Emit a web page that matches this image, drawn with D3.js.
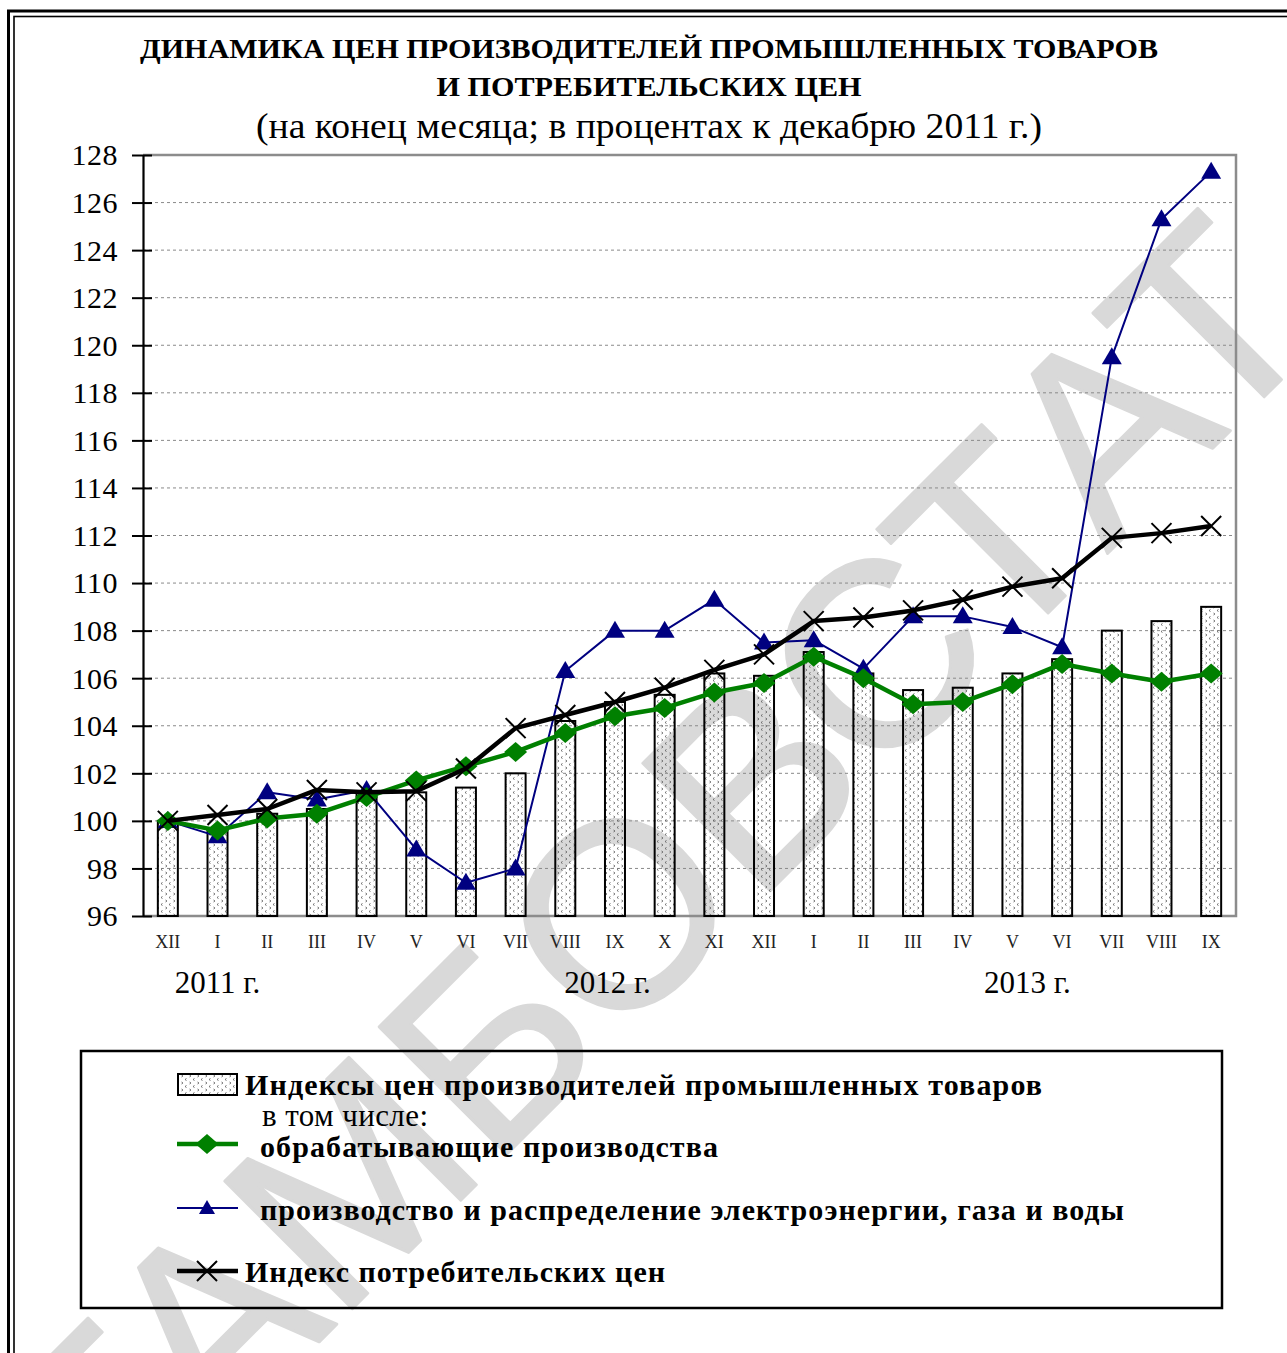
<!DOCTYPE html>
<html>
<head>
<meta charset="utf-8">
<script src="https://cdn.jsdelivr.net/npm/d3@7"></script>
<style>
  body { margin: 0; background: #fff; }
  svg { display: block; }
</style>
</head>
<body>
<div id="chart"></div>
<script>
// month labels: XII 2011 .. IX 2013
const months = ['XII','I','II','III','IV','V','VI','VII','VIII','IX','X','XI','XII',
                'I','II','III','IV','V','VI','VII','VIII','IX'];
const yearLabels = ['2011 г.', '2012 г.', '2013 г.'];
const yearAt = [1, 8.85, 17.3];   // position in month slots
const yTicks = d3.range(96, 129, 2);

// producer price index (bars)
const ppi = [100.0, 99.7, 100.3, 100.5, 101.2, 101.2, 101.4, 102.0, 104.2, 105.0, 105.3,
             106.2, 106.1, 107.1, 106.2, 105.5, 105.6, 106.2, 106.8, 108.0, 108.4, 109.0];
// manufacturing
const manuf = [100.0, 99.6, 100.1, 100.3, 101.0, 101.7, 102.3, 102.9, 103.7, 104.4, 104.75,
               105.4, 105.8, 106.9, 106.0, 104.9, 105.0, 105.75, 106.6, 106.2, 105.85, 106.2];
// electricity, gas and water
const energy = [100.0, 99.35, 101.2, 100.9, 101.3, 98.8, 97.4, 98.0, 106.3, 108.0, 108.0,
                109.3, 107.5, 107.6, 106.4, 108.6, 108.6, 108.15, 107.3, 119.5, 125.3, 127.3];
// consumer price index
const cpi = [100.0, 100.25, 100.5, 101.3, 101.2, 101.25, 102.2, 103.9, 104.45, 105.0, 105.6,
             106.35, 107.0, 108.4, 108.55, 108.85, 109.3, 109.85, 110.2, 111.9, 112.1, 112.4];

const titleLines = ['ДИНАМИКА  ЦЕН  ПРОИЗВОДИТЕЛЕЙ  ПРОМЫШЛЕННЫХ  ТОВАРОВ',
                    'И  ПОТРЕБИТЕЛЬСКИХ  ЦЕН',
                    '(на конец месяца; в процентах к декабрю 2011 г.)'];
const legendNames = ['Индексы цен производителей промышленных товаров',
                     'в том числе:',
                     'обрабатывающие производства',
                     'производство и распределение электроэнергии, газа и воды',
                     'Индекс потребительских цен'];

const W = 1287, H = 1353;
const serif = "'Liberation Serif','Times New Roman',serif";
const pLeft = 143, pRight = 1236, pTop = 155, pBottom = 916;

const svg = d3.select('#chart').append('svg').attr('width', W).attr('height', H);
svg.append('rect').attr('width', W).attr('height', H).attr('fill', '#fff');

// bar fill pattern
const pat = svg.append('defs').append('pattern')
    .attr('id', 'dots').attr('patternUnits', 'userSpaceOnUse')
    .attr('width', 8).attr('height', 7);
pat.append('path').attr('d', 'M2.5,0.5 L1,1.5 L2.5,2.5 M5.5,4 L7,5 L5.5,6')
    .attr('fill', 'none').attr('stroke', '#555').attr('stroke-width', 0.8);

// watermark
svg.append('text')
    .attr('transform', 'translate(718,943) rotate(-45)')
    .attr('text-anchor', 'middle')
    .attr('font-family', "'Liberation Sans',Arial,sans-serif")
    .attr('font-size', 262)
    .attr('fill', '#d9d9d9').attr('stroke', '#d9d9d9').attr('stroke-width', 3)
    .attr('stroke-linejoin', 'round')
    .text('ТАМБОВСТАТ');

// frame
svg.append('rect').attr('x', 8.5).attr('y', 11).attr('width', W).attr('height', H)
    .attr('fill', 'none').attr('stroke', '#000').attr('stroke-width', 3);
svg.append('rect').attr('x', 14).attr('y', 16.5).attr('width', W).attr('height', H)
    .attr('fill', 'none').attr('stroke', '#000').attr('stroke-width', 1.6);

// titles
const titleStyle = [{y: 58, size: 28, w: 'bold', len: 1018},
                    {y: 96, size: 28, w: 'bold', len: 425},
                    {y: 138, size: 36, w: 'normal', len: 786}];
titleLines.forEach((t, i) => {
  svg.append('text').attr('x', 649).attr('y', titleStyle[i].y)
      .attr('text-anchor', 'middle')
      .attr('font-family', serif).attr('font-size', titleStyle[i].size)
      .attr('font-weight', titleStyle[i].w)
      .attr('textLength', titleStyle[i].len).attr('lengthAdjust', 'spacingAndGlyphs')
      .text(t);
});

// scales
const x = d3.scaleBand().domain(d3.range(months.length)).range([pLeft, pRight]).padding(0);
const cx = i => x(i) + x.bandwidth() / 2;
const y = d3.scaleLinear().domain([96, 128]).range([pBottom, pTop]);
const xi = d3.scaleLinear().domain([0, months.length - 1]).range([cx(0), cx(months.length - 1)]);

// grid
svg.append('g').selectAll('line')
    .data(yTicks.filter(v => v > 96 && v < 128)).join('line')
    .attr('x1', pLeft).attr('x2', pRight)
    .attr('y1', d => y(d)).attr('y2', d => y(d))
    .attr('stroke', '#8a8a8a').attr('stroke-width', 1).attr('stroke-dasharray', '3,3');

// plot border (top, right, bottom) in gray
svg.append('path')
    .attr('d', `M${pLeft},${y(128)}H${pRight}V${y(96)}H${pLeft}`)
    .attr('fill', 'none').attr('stroke', '#8c8c8c').attr('stroke-width', 2.5);

// bars
svg.append('g').selectAll('rect').data(ppi).join('rect')
    .attr('x', (d, i) => cx(i) - 10).attr('width', 20)
    .attr('y', d => y(d)).attr('height', d => y(96) - y(d))
    .attr('fill', 'url(#dots)').attr('stroke', '#000').attr('stroke-width', 2);

// y axis
const yAxis = svg.append('g').attr('transform', `translate(${pLeft},0)`)
    .call(d3.axisLeft(y).tickValues(yTicks).tickSize(11).tickPadding(14).tickSizeOuter(0));
yAxis.select('.domain').attr('stroke', '#000').attr('stroke-width', 2.2);
yAxis.selectAll('.tick line').attr('x1', 9).attr('x2', -11).attr('stroke-width', 2);
yAxis.selectAll('.tick text')
    .attr('font-family', serif).attr('font-size', 30).attr('letter-spacing', 0.5)
    .attr('fill', '#000').attr('dy', '0.33em');

// x axis labels
const xAxis = svg.append('g').attr('transform', `translate(0,${pBottom})`)
    .call(d3.axisBottom(x).tickSize(0).tickPadding(0).tickFormat(i => months[i]));
xAxis.select('.domain').remove();
xAxis.selectAll('.tick text')
    .attr('font-family', serif).attr('font-size', 18).attr('fill', '#222')
    .attr('y', 32).attr('dy', 0);

// year labels
svg.append('g').selectAll('text').data(yearLabels).join('text')
    .attr('x', (d, i) => xi(yearAt[i])).attr('y', 993)
    .attr('text-anchor', 'middle')
    .attr('font-family', serif).attr('font-size', 31)
    .text(d => d);

// markers
const diamond = 'M0,-10L11.5,0L0,10L-11.5,0Z';
const triangle = 'M0,-10L10,7L-10,7Z';
const cross = 'M-10,-10L10,10M-10,10L10,-10';

function series(data, color, width, mark, markStyle) {
  const line = d3.line().x((d, i) => cx(i)).y(d => y(d));
  const g = svg.append('g');
  g.append('path').datum(data).attr('d', line)
      .attr('fill', 'none').attr('stroke', color).attr('stroke-width', width)
      .attr('stroke-linejoin', 'round');
  g.selectAll('.m').data(data).join('path').attr('class', 'm')
      .attr('transform', (d, i) => `translate(${cx(i)},${y(d)})`)
      .attr('d', mark).call(markStyle);
}
const fillStyle = c => s => s.attr('fill', c).attr('stroke', 'none');
const crossStyle = s => s.attr('fill', 'none').attr('stroke', '#000').attr('stroke-width', 2);

series(energy, '#000080', 2, triangle, fillStyle('#000080'));
series(manuf, '#008000', 4.5, diamond, fillStyle('#008000'));
series(cpi, '#000', 4.5, cross, crossStyle);

// legend
const lg = svg.append('g');
lg.append('rect').attr('x', 81).attr('y', 1051).attr('width', 1141).attr('height', 257)
    .attr('fill', 'none').attr('stroke', '#000').attr('stroke-width', 2.5);
lg.append('rect').attr('x', 178).attr('y', 1074).attr('width', 59).attr('height', 21)
    .attr('fill', 'url(#dots)').attr('stroke', '#000').attr('stroke-width', 2);

const swatches = [{y: 1144, c: '#008000', w: 4.5, m: diamond, st: fillStyle('#008000')},
                  {y: 1208, c: '#000080', w: 2, m: 'M0,-8L8,6L-8,6Z', st: fillStyle('#000080')},
                  {y: 1271, c: '#000', w: 4.5, m: cross, st: crossStyle}];
swatches.forEach(s => {
  lg.append('line').attr('x1', 177).attr('x2', 238).attr('y1', s.y).attr('y2', s.y)
      .attr('stroke', s.c).attr('stroke-width', s.w);
  lg.append('path').attr('transform', `translate(207,${s.y})`).attr('d', s.m).call(s.st);
});

const legendText = [{x: 245, y: 1095, w: 'bold', size: 30, len: 797},
                    {x: 262, y: 1126, w: 'normal', size: 31, len: 166},
                    {x: 260, y: 1157, w: 'bold', size: 30, len: 458},
                    {x: 260, y: 1220, w: 'bold', size: 30, len: 864},
                    {x: 245, y: 1282, w: 'bold', size: 30, len: 420}];
legendNames.forEach((t, i) => {
  const s = legendText[i];
  lg.append('text').attr('x', s.x).attr('y', s.y)
      .attr('font-family', serif).attr('font-size', s.size).attr('font-weight', s.w)
      .attr('textLength', s.len).attr('lengthAdjust', 'spacing')
      .text(t);
});
</script>
</body>
</html>
